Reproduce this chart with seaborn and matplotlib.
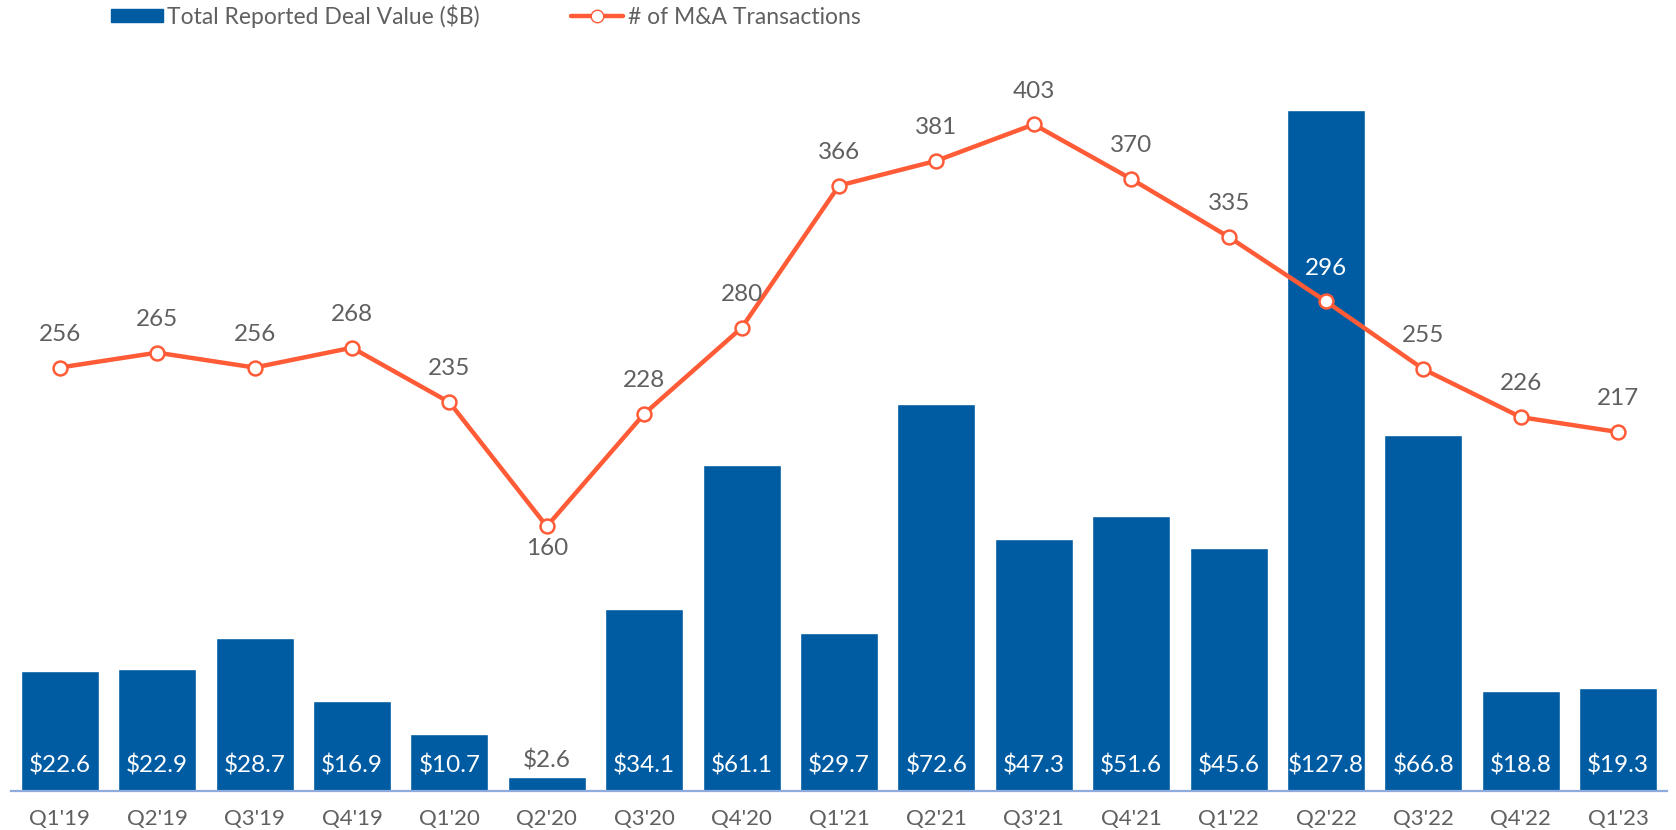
import numpy as np
import pandas as pd
import seaborn as sns
import matplotlib.pyplot as plt
from matplotlib.patches import Patch
from matplotlib.lines import Line2D

# ---- Data ----
quarters = ["Q1'19", "Q2'19", "Q3'19", "Q4'19", "Q1'20", "Q2'20", "Q3'20", "Q4'20",
            "Q1'21", "Q2'21", "Q3'21", "Q4'21", "Q1'22", "Q2'22", "Q3'22", "Q4'22", "Q1'23"]
deal_value = [22.6, 22.9, 28.7, 16.9, 10.7, 2.6, 34.1, 61.1,
              29.7, 72.6, 47.3, 51.6, 45.6, 127.8, 66.8, 18.8, 19.3]
transactions = [256, 265, 256, 268, 235, 160, 228, 280,
                366, 381, 403, 370, 335, 296, 255, 226, 217]

df = pd.DataFrame({"quarter": quarters, "value": deal_value, "count": transactions})

BLUE = "#005CA2"
ORANGE = "#FF5B37"
GREY = "#606060"

sns.set_style("white")
plt.rcParams["font.family"] = ["Lato", "DejaVu Sans"]

fig = plt.figure(figsize=(16.76, 8.3), dpi=100)
ax = fig.add_axes([0.0066, 0.047, 0.988, 0.953])

sns.barplot(data=df, x="quarter", y="value", color=BLUE, saturation=1,
            width=0.8, ax=ax)
ax.set_ylim(0, 148.4)
ax.set_xlim(-0.5, len(quarters) - 0.5)

# bar labels near the bottom (white), tiny bars get a grey label on top
for i, v in enumerate(deal_value):
    if v < 5:
        ax.annotate(f"${v}", xy=(i, v), xytext=(0, 12), textcoords="offset points",
                    ha="center", va="center", fontsize=17.5, color=GREY)
    else:
        ax.annotate(f"${v}", xy=(i, 0), xytext=(0, 18), textcoords="offset points",
                    ha="center", va="center", fontsize=17.5, color="white")

ax2 = ax.twinx()
sns.lineplot(x=np.arange(len(quarters)), y=transactions, ax=ax2, color=ORANGE,
             linewidth=3.2, marker="o", markersize=10, markerfacecolor="white",
             markeredgecolor=ORANGE, markeredgewidth=1.8)
ax2.set_ylim(0, 478.2)

for i, v in enumerate(transactions):
    if v == min(transactions):
        off, col = -16, GREY
    elif deal_value[i] / 148.4 > v / 478.2 + 0.05:
        off, col = 24, "white"   # label sits inside the tall bar
    else:
        off, col = 24, GREY
    ax2.annotate(str(v), xy=(i, v), xytext=(0, off), textcoords="offset points",
                 ha="center", va="center", fontsize=17.5, color=col)

for a in (ax, ax2):
    for s in ["top", "left", "right"]:
        a.spines[s].set_visible(False)
    a.set_yticks([])
    a.set_ylabel("")
    a.set_xlabel("")
ax2.spines["bottom"].set_visible(False)
ax.spines["bottom"].set_color("#8FAADC")
ax.spines["bottom"].set_linewidth(1.6)
ax.tick_params(axis="x", length=0, pad=13, labelsize=16, labelcolor=GREY)

handles = [Patch(facecolor=BLUE, edgecolor=BLUE),
           Line2D([], [], color=ORANGE, linewidth=3.2, marker="o", markersize=9,
                  markerfacecolor="white", markeredgecolor=ORANGE)]
fig.legend(handles, ["Total Reported Deal Value ($B)", "# of M&A Transactions"],
           loc="upper left", bbox_to_anchor=(0.0662, 0.995), ncol=2, frameon=False,
           fontsize=16.5, labelcolor=GREY, handlelength=2.25, handleheight=0.55,
           handletextpad=0.2, columnspacing=4.0, borderpad=0, borderaxespad=0)

fig.savefig("out.png", dpi=100)
